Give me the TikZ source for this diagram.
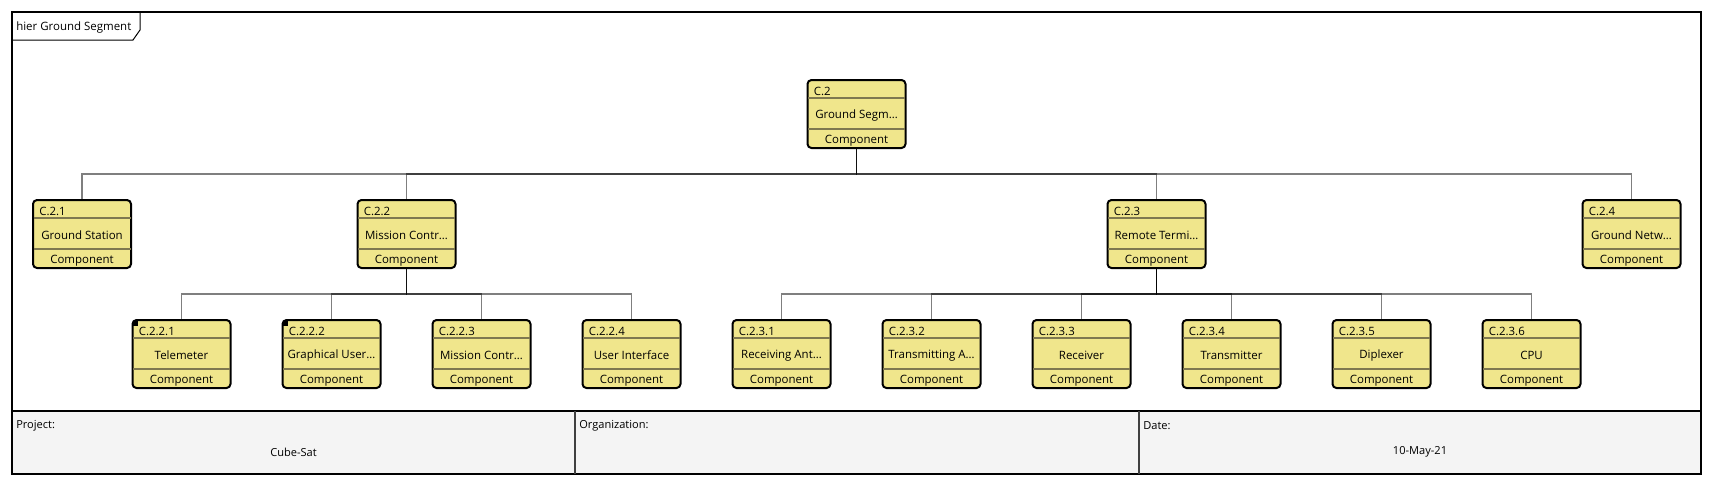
\documentclass[tikz,border=0pt]{standalone}
\usepackage{fontspec}
\setmainfont{Open Sans}
\definecolor{khaki}{HTML}{F0E68C}
\definecolor{divc}{HTML}{7F7850}
\definecolor{tablebg}{HTML}{F4F4F4}
\tikzset{
  cb/.style={draw=black, fill=khaki, line width=1.5pt, rounded corners=3pt,
    minimum width=73.5pt, minimum height=51pt, inner sep=0pt},
  div/.style={draw=divc, line width=1.1pt},
  txt/.style={inner sep=0pt, font=\fontsize{8.6}{10}\selectfont},
  small/.style={inner sep=0pt, font=\fontsize{8.3}{10}\selectfont},
  conn/.style={draw=black, draw opacity=0.5, line width=1pt},
}
\newcommand\cbox[5]{%
  \node[cb] (#1) at (#2,{#3+34}) {};
  \draw[div] ({#2-48.5},{#3+18}) -- ({#2+48.5},{#3+18});
  \draw[div] ({#2-48.5},{#3+49}) -- ({#2+48.5},{#3+49});
  \node[txt,anchor=west] (#1-id) at ({#2-43},{#3+11.5}) {#4};
  \node[txt] (#1-lb) at (#2,{#3+35.5}) {#5};
  \node[txt] (#1-st) at (#2,{#3+60.5}) {Component};
}
\newcommand\cmarker[2]{%
  \fill[black] ({#1-48.5},{#2+1}) rectangle ({#1-44},{#2+5.5});
}
\begin{document}
\begin{tikzpicture}[x=0.75pt,y=-0.75pt]
\useasboundingbox (0,0) rectangle (1714,486);
% frame
\fill[tablebg] (12,411) rectangle (1701,474);
\draw[line width=1.5pt] (12,12) rectangle (1701,474);
\draw[line width=1.5pt] (12,411) -- (1701,411);
\draw[line width=1.5pt, draw=black!75] (575,411) -- (575,474);
\draw[line width=1.5pt, draw=black!75] (1139,411) -- (1139,474);
\draw[line width=0.75pt] (12,40) -- (133,40) -- (140,30) -- (140,12);
\node[txt,anchor=west] (title) at (16,28) {hier Ground Segment};
% table texts
\node[small,anchor=west] (proj) at (16,426) {Project:};
\node[small] (projv) at (293.5,452) {Cube-Sat};
\node[small,anchor=west] (org) at (579,426) {Organization:};
\node[small,anchor=west] (date) at (1143,426) {Date:};
\node[small] (datev) at (1420,452) {10-May-21};
% boxes
\cbox{c2}{856.5}{80}{C.2}{Ground Segm…}
\cbox{c21}{82}{200}{C.2.1}{Ground Station}
\cbox{c22}{406.5}{200}{C.2.2}{Mission Contr…}
\cbox{c23}{1156.5}{200}{C.2.3}{Remote Termi…}
\cbox{c24}{1631.5}{200}{C.2.4}{Ground Netw…}
\cbox{c221}{181.5}{320}{C.2.2.1}{Telemeter}
\cbox{c222}{331.5}{320}{C.2.2.2}{Graphical User…}
\cbox{c223}{481.5}{320}{C.2.2.3}{Mission Contr…}
\cbox{c224}{631.5}{320}{C.2.2.4}{User Interface}
\cbox{c231}{781.5}{320}{C.2.3.1}{Receiving Ant…}
\cbox{c232}{931.5}{320}{C.2.3.2}{Transmitting A…}
\cbox{c233}{1081.5}{320}{C.2.3.3}{Receiver}
\cbox{c234}{1231.5}{320}{C.2.3.4}{Transmitter}
\cbox{c235}{1381.5}{320}{C.2.3.5}{Diplexer}
\cbox{c236}{1531.5}{320}{C.2.3.6}{CPU}
\cmarker{181.5}{320}
\cmarker{331.5}{320}
% bus coordinates
\coordinate (b1) at (0,174);
\coordinate (b2) at (0,294);
% connectors
\foreach \c in {c21,c22,c23,c24}{
  \draw[conn] (c2.south) -- (c2.south |- b1) -| (\c.north);
}
\foreach \c in {c221,c222,c223,c224}{
  \draw[conn] (c22.south) -- (c22.south |- b2) -| (\c.north);
}
\foreach \c in {c231,c232,c233,c234,c235,c236}{
  \draw[conn] (c23.south) -- (c23.south |- b2) -| (\c.north);
}
\end{tikzpicture}
\end{document}
